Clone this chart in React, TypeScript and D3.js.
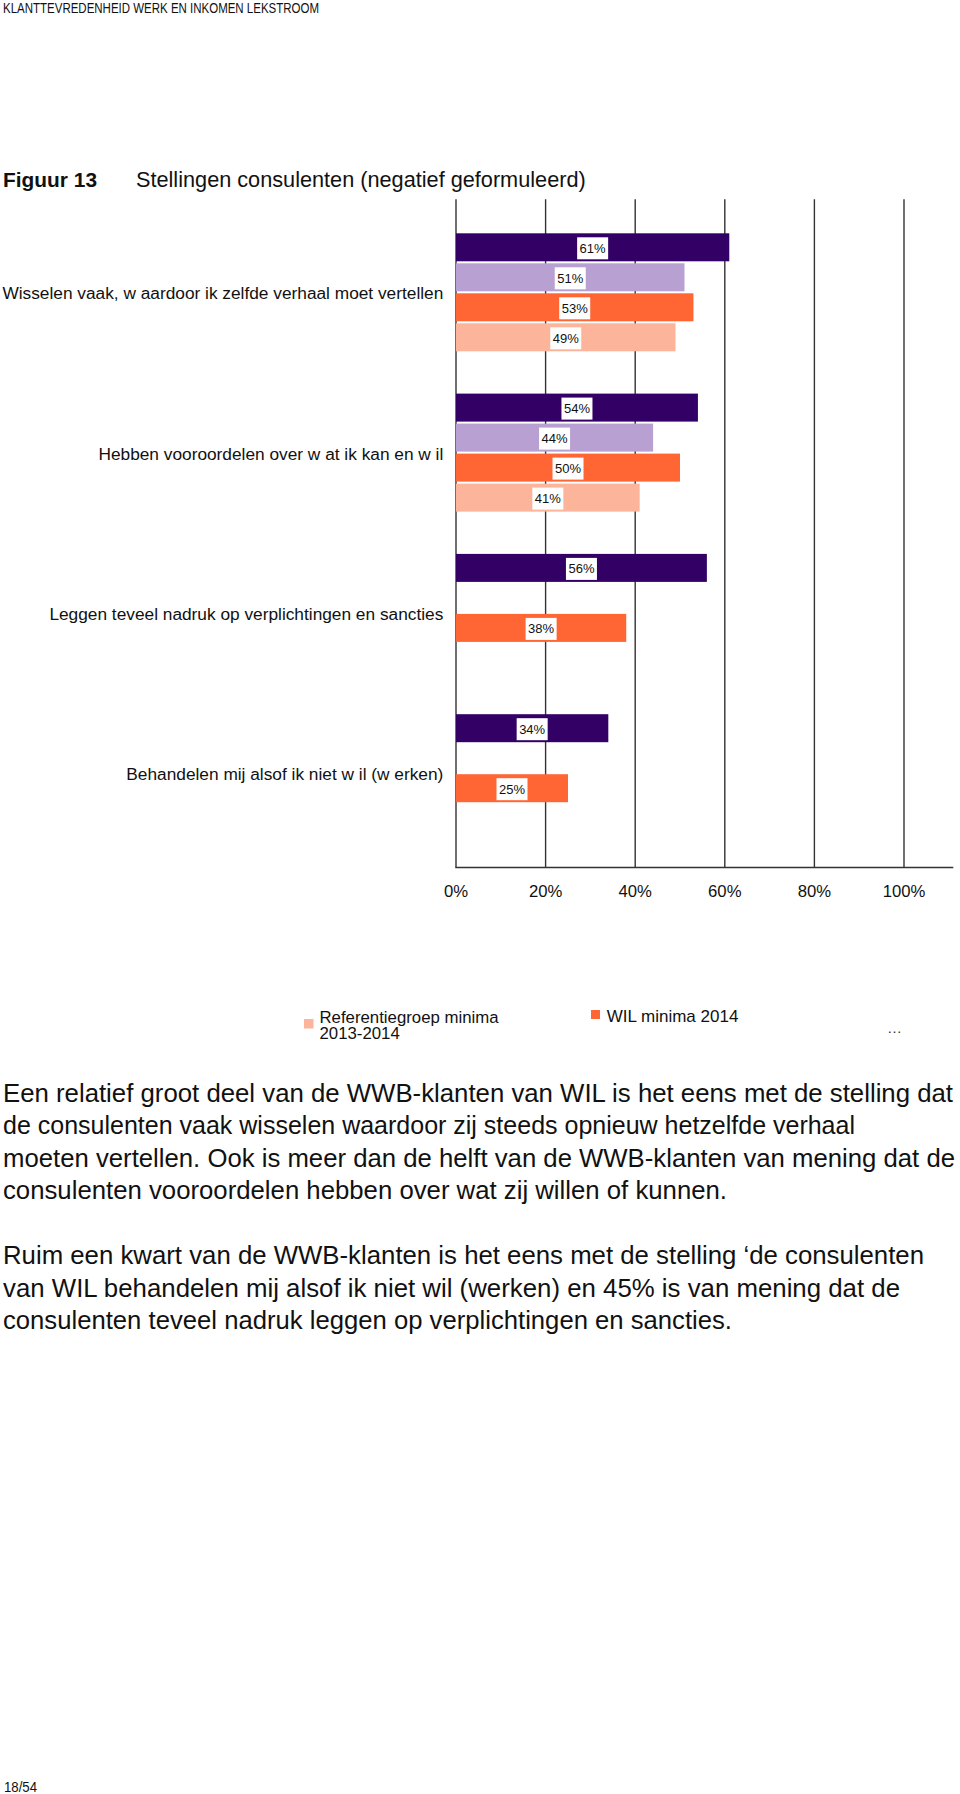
import React from "react";
import * as d3 from "d3";

const headerText = "KLANTTEVREDENHEID WERK EN INKOMEN LEKSTROOM";
const figureLabel = "Figuur 13";
const figureTitle = "Stellingen consulenten (negatief geformuleerd)";

const categories = [
  "Wisselen vaak, w aardoor ik zelfde verhaal moet vertellen",
  "Hebben vooroordelen over w at ik kan en w il",
  "Leggen teveel nadruk op verplichtingen en sancties",
  "Behandelen mij alsof ik niet w il (w erken)",
];

const seriesNames = [
  "WIL WWB 2014",
  "Referentiegroep WWB 2013-2014",
  "WIL minima 2014",
  "Referentiegroep minima 2013-2014",
];
const seriesColors = ["#330066", "#B9A0D3", "#FF6633", "#FCB49B"];

const wilWwb: (number | null)[] = [61, 54, 56, 34];
const refWwb: (number | null)[] = [51, 44, null, null];
const wilMinima: (number | null)[] = [53, 50, 38, 25];
const refMinima: (number | null)[] = [49, 41, null, null];
const seriesValues = [wilWwb, refWwb, wilMinima, refMinima];

const xTicks = [0, 20, 40, 60, 80, 100];
const axisMax = 111;

const legendItems = [
  { lines: ["Referentiegroep minima", "2013-2014"], series: 3 },
  { lines: ["WIL minima 2014"], series: 2 },
];

const paragraph1 = [
  "Een relatief groot deel van de WWB-klanten van WIL is het eens met de stelling dat",
  "de consulenten vaak wisselen waardoor zij steeds opnieuw hetzelfde verhaal",
  "moeten vertellen. Ook is meer dan de helft van de WWB-klanten van mening dat de",
  "consulenten vooroordelen hebben over wat zij willen of kunnen.",
];
const paragraph2 = [
  "Ruim een kwart van de WWB-klanten is het eens met de stelling \u2018de consulenten",
  "van WIL behandelen mij alsof ik niet wil (werken) en 45% is van mening dat de",
  "consulenten teveel nadruk leggen op verplichtingen en sancties.",
];
const paragraph1Widths = [950, 852, 952, 724];
const paragraph2Widths = [921, 897, 729];
const pageNumber = "18/54";

const FONT = "'Liberation Sans', Arial, Helvetica, sans-serif";

export default function App() {
  const W = 960;
  const H = 1794;
  const x = d3.scaleLinear().domain([0, 100]).range([456, 904]);
  const yBand = d3.scaleBand<string>().domain(categories).range([213.3, 854.5]);
  const ySub = d3.scaleBand<number>().domain([0, 1, 2, 3]).range([20, 140]);
  const gridTop = 199.3;
  const gridBottom = 867.5;
  const barH = 28;

  const bodyLine = 32.5;
  const bodyStart = 1101.5;

  return (
    <svg
      width={W}
      height={H}
      style={{ position: "absolute", left: 0, top: 0, background: "#fff" }}
      fontFamily={FONT}
    >
      <rect x={0} y={0} width={W} height={H} fill="#fff" />
      <text x={3} y={13.3} fontSize={14} textLength={316} lengthAdjust="spacingAndGlyphs" fill="#111">
        {headerText}
      </text>
      <text x={3} y={187.3} fontSize={21} fontWeight="bold" fill="#111" textLength={94} lengthAdjust="spacingAndGlyphs">
        {figureLabel}
      </text>
      <text x={136} y={187.3} fontSize={21.7} fill="#111">
        {figureTitle}
      </text>

      {/* gridlines */}
      {xTicks.map((t) => (
        <line key={"g" + t} x1={x(t)} x2={x(t)} y1={gridTop} y2={gridBottom} stroke="#333" strokeWidth={1.4} />
      ))}
      <line x1={x(0) - 0.7} x2={x(axisMax)} y1={gridBottom} y2={gridBottom} stroke="#333" strokeWidth={1.4} />

      {/* bars */}
      {categories.map((c, ci) => (
        <g key={"c" + ci} transform={`translate(0,${yBand(c)})`}>
          {seriesValues.map((vals, si) => {
            const v = vals[ci];
            if (v == null) return null;
            const y0 = ySub(si)!;
            return (
              <rect key={"b" + si} x={x(0)} y={y0} width={x(v) - x(0)} height={barH} fill={seriesColors[si]} />
            );
          })}
          {seriesValues.map((vals, si) => {
            const v = vals[ci];
            if (v == null) return null;
            const y0 = ySub(si)!;
            const cx = (x(0) + x(v)) / 2;
            const cy = y0 + barH / 2 + 1;
            return (
              <g key={"l" + si}>
                <rect x={cx - 15.5} y={cy - 11} width={31} height={22} fill="#fff" />
                <text x={cx} y={cy} fontSize={13} textAnchor="middle" dominantBaseline="central" fill="#111">
                  {v}%
                </text>
              </g>
            );
          })}
          <text
            x={443.3}
            y={yBand.bandwidth() / 2}
            fontSize={17.3}
            textAnchor="end"
            dominantBaseline="central"
            fill="#111"
          >
            {c}
          </text>
        </g>
      ))}

      {/* x tick labels */}
      {xTicks.map((t) => (
        <text key={"t" + t} x={x(t)} y={896.8} fontSize={16.7} textAnchor="middle" fill="#111">
          {t}%
        </text>
      ))}

      {/* legend */}
      <rect x={304} y={1019} width={9.5} height={9.5} fill={seriesColors[legendItems[0].series]} />
      <text x={319.5} y={1022.8} fontSize={16.8} fill="#111">
        {legendItems[0].lines.map((l, i) => (
          <tspan key={"lg0" + i} x={319.5} dy={i === 0 ? 0 : 16}>
            {l}
          </tspan>
        ))}
      </text>
      <rect x={591} y={1010} width={9} height={9} fill={seriesColors[legendItems[1].series]} />
      <text x={606.7} y={1022} fontSize={17} fill="#111">
        {legendItems[1].lines[0]}
      </text>
      <text x={887} y={1033} fontSize={15} fill="#333">
        {"\u2026"}
      </text>

      {/* body text */}
      {paragraph1.map((l, i) => (
        <text
          key={"p1" + i}
          x={3}
          y={bodyStart + i * bodyLine}
          fontSize={25.5}
          fill="#111"
          textLength={paragraph1Widths[i]}
          lengthAdjust="spacingAndGlyphs"
        >
          {l}
        </text>
      ))}
      {paragraph2.map((l, i) => (
        <text
          key={"p2" + i}
          x={3}
          y={bodyStart + (i + 5) * bodyLine}
          fontSize={25.5}
          fill="#111"
          textLength={paragraph2Widths[i]}
          lengthAdjust="spacingAndGlyphs"
        >
          {l}
        </text>
      ))}

      <text x={4} y={1791.5} fontSize={14} fill="#111" textLength={33} lengthAdjust="spacingAndGlyphs">
        {pageNumber}
      </text>
    </svg>
  );
}
